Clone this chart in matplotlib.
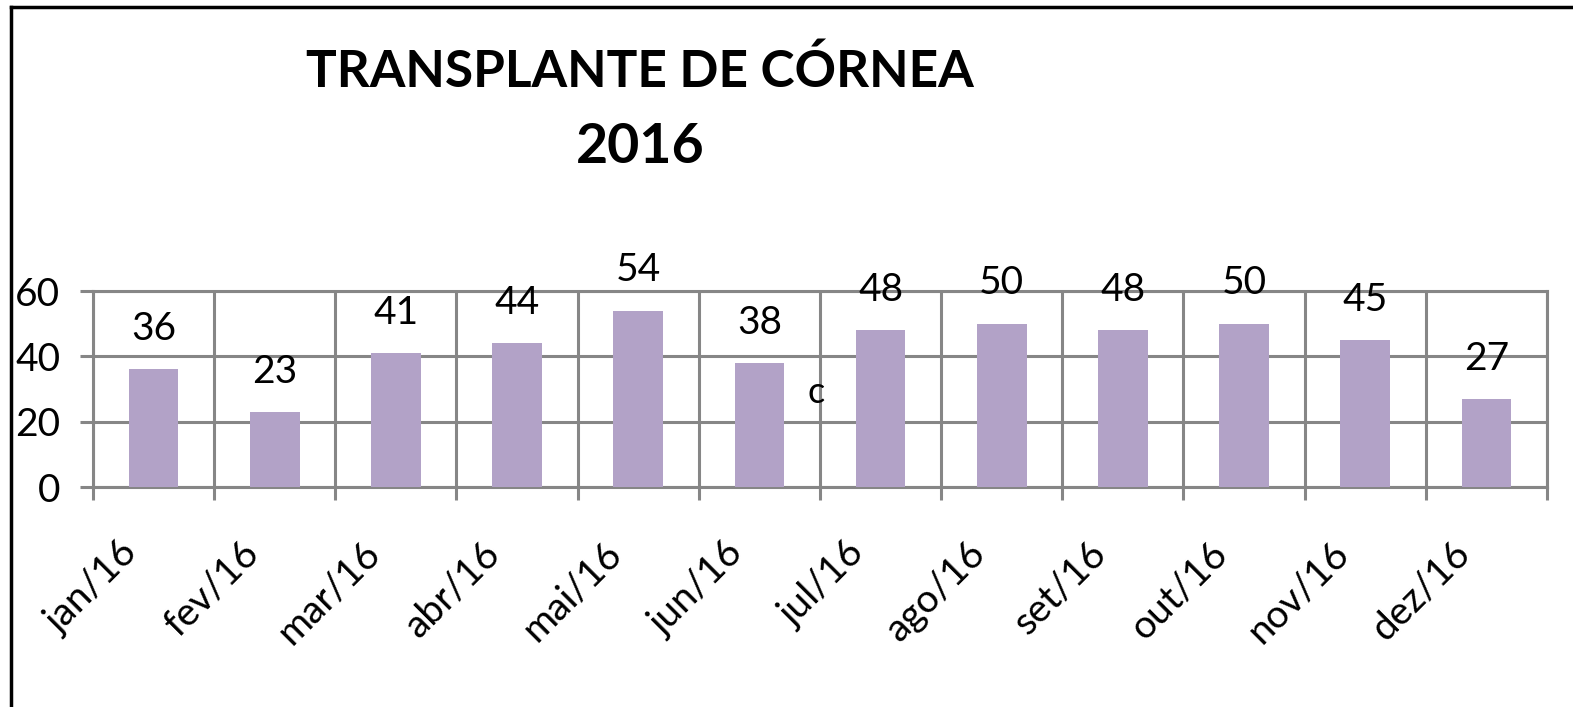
import matplotlib
matplotlib.use("Agg")
import matplotlib.pyplot as plt
from matplotlib.lines import Line2D
from matplotlib.transforms import ScaledTranslation

months = ["jan/16", "fev/16", "mar/16", "abr/16", "mai/16", "jun/16",
          "jul/16", "ago/16", "set/16", "out/16", "nov/16", "dez/16"]
transplants = [36, 23, 41, 44, 54, 38, 48, 50, 48, 50, 45, 27]
y_ticks = [0, 20, 40, 60]

BAR_COLOR = "#B2A2C7"
GRID_COLOR = "#868686"
FONT = "Lato"

plt.rcParams["font.family"] = [FONT, "DejaVu Sans"]

W, H, DPI = 1573, 707, 100
fig = plt.figure(figsize=(W / DPI, H / DPI), dpi=DPI)

left, right, top, bottom = 93, 1547, 291, 487
ax = fig.add_axes([left / W, 1 - bottom / H, (right - left) / W, (bottom - top) / H])

x = list(range(len(months)))
ax.bar(x, transplants, width=0.41, color=BAR_COLOR, zorder=3)

for xi, v in zip(x, transplants):
    ax.annotate(str(v), (xi, v), xytext=(0, 29), textcoords="offset points",
                ha="center", va="center", fontsize=28, zorder=4)

# stray character present in the original chart
ax.text(5.47, 28.8, "c", ha="center", va="center", fontsize=26)

ax.set_xlim(-0.5, len(months) - 0.5)
ax.set_ylim(0, 60)
ax.set_yticks(y_ticks)
ax.set_yticklabels([str(t) for t in y_ticks], fontsize=28)

ax.set_xticks([i - 0.5 for i in range(len(months) + 1)], minor=True)
ax.set_xticks(x)
ax.set_xticklabels(months, fontsize=28, rotation=45, ha="right", va="top",
                   rotation_mode="anchor")

ax.tick_params(axis="x", which="major", length=0, pad=0)
ax.tick_params(axis="x", which="minor", length=9.5, width=2.2, color=GRID_COLOR)
ax.tick_params(axis="y", length=9.5, width=2.2, color=GRID_COLOR, pad=14)

ax.grid(axis="y", color=GRID_COLOR, linewidth=2.2, zorder=1)
ax.grid(axis="x", which="minor", color=GRID_COLOR, linewidth=2.2, zorder=1)
ax.grid(axis="x", which="major", visible=False)
for s in ax.spines.values():
    s.set_color(GRID_COLOR)
    s.set_linewidth(2.2)
    s.set_zorder(2)

offset = ScaledTranslation(-0.35, -0.48, fig.dpi_scale_trans)
for lbl in ax.get_xticklabels():
    lbl.set_transform(lbl.get_transform() + offset)

fig.text(640 / W, 1 - 72 / H, "TRANSPLANTE DE CÓRNEA", ha="center", va="center",
         fontsize=37, fontweight="bold")
fig.text(640 / W, 1 - 147 / H, "2016", ha="center", va="center",
         fontsize=40, fontweight="bold")

# outer chart border (left and top edges visible)
fig.add_artist(Line2D([11 / W, 11 / W], [0, 1 - 7 / H], color="black", linewidth=2.5))
fig.add_artist(Line2D([11 / W, 1], [1 - 7 / H, 1 - 7 / H], color="black", linewidth=2.5))

fig.savefig("out.png", dpi=DPI)
